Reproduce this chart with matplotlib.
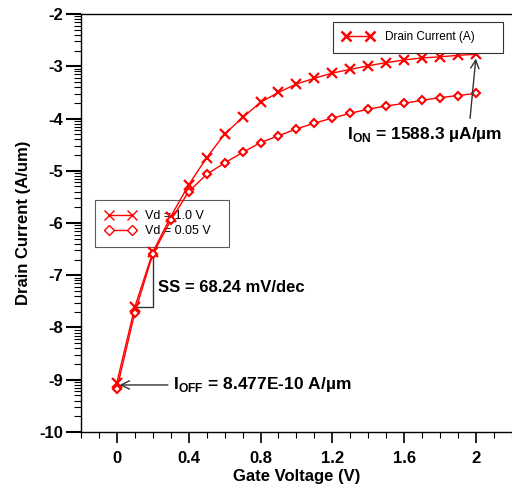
import numpy as np
import matplotlib
matplotlib.use("Agg")
import matplotlib.pyplot as plt
from matplotlib.lines import Line2D

plt.rcParams['font.family'] = ['Liberation Sans', 'DejaVu Sans']
plt.rcParams['mathtext.fontset'] = 'custom'
plt.rcParams['mathtext.rm'] = 'Liberation Sans'
plt.rcParams['mathtext.bf'] = 'Liberation Sans:bold'

gate_v = [0.0, 0.1, 0.2, 0.3, 0.4, 0.5, 0.6, 0.7, 0.8, 0.9, 1.0,
          1.1, 1.2, 1.3, 1.4, 1.5, 1.6, 1.7, 1.8, 1.9, 2.0]
vd_1p0 = [-9.06, -7.61, -6.56, -5.88, -5.27, -4.75, -4.30, -3.98, -3.69, -3.50, -3.34,
          -3.23, -3.13, -3.06, -2.99, -2.93, -2.88, -2.84, -2.82, -2.79, -2.77]
vd_0p05 = [-9.18, -7.72, -6.60, -5.95, -5.40, -5.07, -4.85, -4.65, -4.46, -4.33, -4.20,
           -4.09, -3.99, -3.90, -3.82, -3.76, -3.71, -3.65, -3.60, -3.56, -3.52]
x_ticks = [0, 0.4, 0.8, 1.2, 1.6, 2]
x_tick_labels = ['0', '0.4', '0.8', '1.2', '1.6', '2']
y_ticks = [-10, -9, -8, -7, -6, -5, -4, -3, -2]

red = '#ff0000'
fig = plt.figure(figsize=(5.12, 4.9), dpi=100)
ax = fig.add_axes([0.158, 0.1184, 0.842, 0.853])

ax.plot(gate_v, vd_1p0, color=red, lw=1.0, marker='x', ms=6.5, mew=1.6, zorder=3)
ax.plot(gate_v, vd_0p05, color=red, lw=1.0, marker='D', ms=4.5, mfc='white', mew=1.5, zorder=3)

ax.set_xlim(-0.2, 2.2)
ax.set_ylim(-10, -2)
ax.set_xticks(x_ticks)
ax.set_xticklabels(x_tick_labels)
ax.set_xticks(np.round(np.arange(-0.2, 2.21, 0.1), 2), minor=True)
ax.set_yticks(y_ticks)
ax.set_yticklabels([str(v) for v in y_ticks])
minor_y = [n + np.log10(k) for n in range(-10, -2) for k in range(2, 10)]
ax.set_yticks(minor_y, minor=True)

ax.tick_params(axis='y', which='major', length=11, width=1.5, direction='out', labelsize=12, pad=2)
ax.tick_params(axis='y', which='minor', length=5, width=0.8, direction='out')
ax.tick_params(axis='x', which='major', length=8, width=1.2, direction='out', labelsize=12, pad=6)
ax.tick_params(axis='x', which='minor', length=4, width=0.8, direction='out')
for lab in ax.get_xticklabels() + ax.get_yticklabels():
    lab.set_fontweight('bold')
ax.spines['right'].set_visible(False)
for s in ['left', 'bottom', 'top']:
    ax.spines[s].set_linewidth(1.0)

ax.set_xlabel('Gate Voltage (V)', fontsize=12, fontweight='bold', labelpad=2)
ax.set_ylabel('Drain Current (A/um)', fontsize=12, fontweight='bold', labelpad=6)

# legends
h1 = Line2D([], [], color=red, lw=1.0, marker='x', ms=7, mew=1.8)
leg1 = ax.legend([h1], ['Drain Current (A)'], loc='upper left',
                 bbox_to_anchor=(0.585, 0.907, 0.394, 0.074), mode='expand',
                 fontsize=8.5, frameon=True, fancybox=False, edgecolor='#333333',
                 facecolor='white', framealpha=1.0, numpoints=2,
                 handlelength=2.6, handletextpad=1.0, borderpad=0.8, borderaxespad=0.0)
leg1.get_frame().set_linewidth(0.8)
leg1.set_zorder(5)
ax.add_artist(leg1)
h2 = Line2D([], [], color=red, lw=1.0, marker='x', ms=7, mew=1.0)
h3 = Line2D([], [], color=red, lw=1.0, marker='D', ms=5, mfc='white', mew=1.0)
leg2 = ax.legend([h2, h3], ['Vd = 1.0 V', 'Vd = 0.05 V'], loc='upper left',
                 bbox_to_anchor=(0.0325, 0.443, 0.311, 0.112), mode='expand',
                 fontsize=9, frameon=True, fancybox=False,
                 edgecolor='#333333', facecolor='none', numpoints=2, handlelength=2.5,
                 handletextpad=0.7, borderpad=0.8, labelspacing=0.25, borderaxespad=0.0)
leg2.get_frame().set_linewidth(0.8)
leg2.set_zorder(2)

# SS bracket
ax.plot([0.2, 0.2, 0.1], [-6.58, -7.61, -7.61], color='#333333', lw=1.0, zorder=2)
ax.text(0.23, -7.24, 'SS = 68.24 mV/dec', fontsize=12, fontweight='bold', va='center', ha='left')

# I_ON
ax.annotate('', xy=(2.0, -2.8), xytext=(1.965, -4.05),
            arrowprops=dict(arrowstyle='->', color='#333333', lw=1.0, mutation_scale=15))
ax.text(1.28, -4.3, r'$\mathbf{I}_{\mathbf{ON}}$ = 1588.3 µA/µm', fontsize=12.5,
        fontweight='bold', va='center', ha='left')

# I_OFF
ax.annotate('', xy=(0.0, -9.1), xytext=(0.3, -9.1),
            arrowprops=dict(arrowstyle='->', color='#333333', lw=1.0, mutation_scale=15))
ax.text(0.315, -9.1, r'$\mathbf{I}_{\mathbf{OFF}}$ = 8.477E-10 A/µm', fontsize=12.5,
        fontweight='bold', va='center', ha='left')

fig.savefig('out.png', dpi=100)
